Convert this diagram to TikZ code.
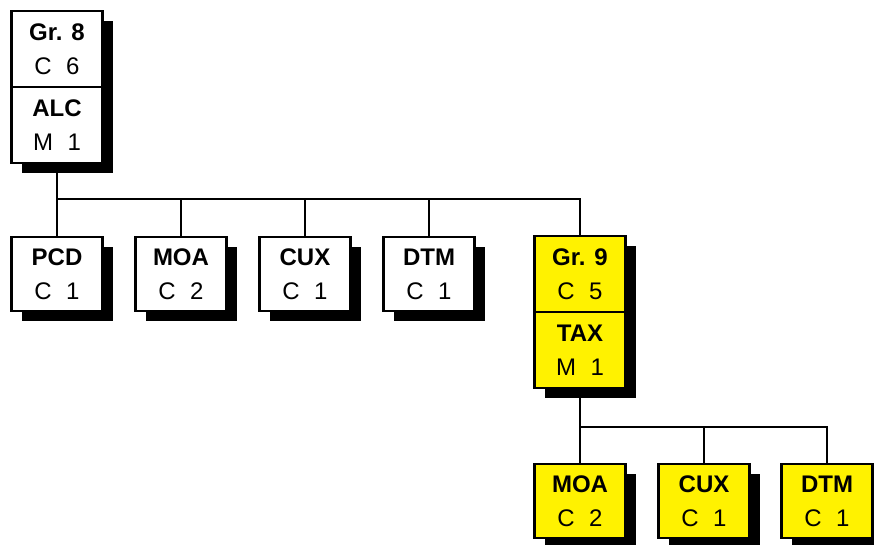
\documentclass[tikz,border=0pt]{standalone}
\usepackage{fontspec}
\setmainfont{Liberation Sans}
\usetikzlibrary{shadows,backgrounds}
\newcommand{\gapsp}{\hspace{0.6em}}
\begin{document}
\begin{tikzpicture}[x=1pt,y=-1pt,
  box/.style={draw=black, line width=2.4pt, fill=white, minimum width=91pt, inner sep=0pt, align=center,
    font=\fontsize{24}{34}\selectfont,
    drop shadow={shadow xshift=10pt, shadow yshift=-10pt, fill=black, opacity=1}},
  single/.style={box, minimum height=74pt},
  half/.style={box, minimum height=76pt},
  hl/.style={fill=yellow},
  conn/.style={line width=2.6pt}]
\useasboundingbox (0,0) rectangle (874,544);
% top stack
\node[half] (gr8) at (57,49) {\textbf{Gr. 8}\\C\gapsp6};
\node[half] (alc) at (57,125) {\textbf{ALC}\\M\gapsp1};
% first row
\node[single] (pcd) at (57,274) {\textbf{PCD}\\C\gapsp1};
\node[single] (moa) at (181,274) {\textbf{MOA}\\C\gapsp2};
\node[single] (cux) at (305,274) {\textbf{CUX}\\C\gapsp1};
\node[single] (dtm) at (429,274) {\textbf{DTM}\\C\gapsp1};
\node[half,hl] (gr9) at (580,274) {\textbf{Gr. 9}\\C\gapsp5};
\node[half,hl] (tax) at (580,350) {\textbf{TAX}\\M\gapsp1};
% second row
\node[single,hl] (moa2) at (580,501) {\textbf{MOA}\\C\gapsp2};
\node[single,hl] (cux2) at (704,501) {\textbf{CUX}\\C\gapsp1};
\node[single,hl] (dtm2) at (827,501) {\textbf{DTM}\\C\gapsp1};
\coordinate (bus1) at (0,199);
\coordinate (bus2) at (0,427);
\begin{scope}[on background layer]
\draw[conn] (alc.south) -- (alc.south |- bus1) -- (gr9.north |- bus1) -- (gr9.north);
\foreach \n in {pcd,moa,cux,dtm} \draw[conn] (\n.north) -- (\n.north |- bus1);
\draw[conn] (tax.south) -- (tax.south |- bus2) -- (dtm2.north |- bus2) -- (dtm2.north);
\foreach \n in {moa2,cux2} \draw[conn] (\n.north) -- (\n.north |- bus2);
\end{scope}
\end{tikzpicture}
\end{document}
